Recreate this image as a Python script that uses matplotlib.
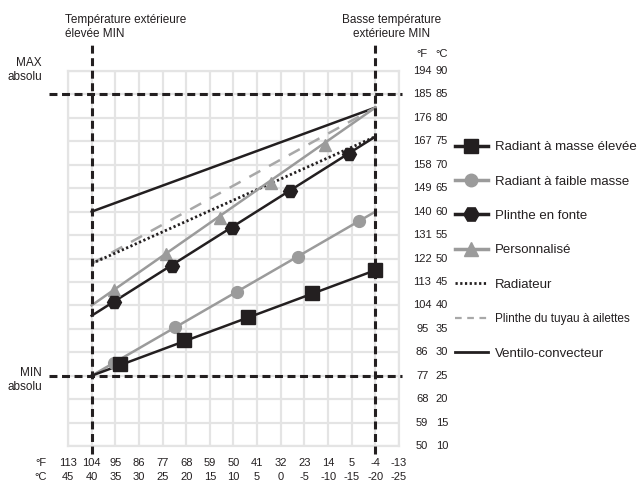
import numpy as np
import matplotlib
matplotlib.use("Agg")
import matplotlib.pyplot as plt
from matplotlib.lines import Line2D
import matplotlib.transforms as mtransforms

# temperatures in degC (outdoor on x, supply water on y)
c_ticks = [90, 85, 80, 75, 70, 65, 60, 55, 50, 45, 40, 35, 30, 25, 20, 15, 10]
x_ticks = [45, 40, 35, 30, 25, 20, 15, 10, 5, 0, -5, -10, -15, -20, -25]

T_HIGH = 40      # température extérieure élevée MIN
T_LOW = -20      # basse température extérieure MIN
MAX_ABS = 85
MIN_ABS = 25

# each curve: end points of the line + marker points
elevee_line_x = [40, -20]
elevee_line_y = [25, 47.5]
elevee_mk_x = [33.9, 20.4, 6.9, -6.6, -20]
elevee_mk_y = [27.6, 32.6, 37.6, 42.6, 47.5]

faible_line_x = [40, -20]
faible_line_y = [25, 60]
faible_mk_x = [35.3, 22.3, 9.3, -3.6, -16.6]
faible_mk_y = [27.8, 35.3, 42.9, 50.4, 58.0]

fonte_line_x = [40, -20]
fonte_line_y = [37.8, 76]
fonte_mk_x = [35.3, 23, 10.4, -1.9, -14.5]
fonte_mk_y = [40.8, 48.5, 56.5, 64.5, 72.4]

perso_line_x = [40, -20]
perso_line_y = [40, 82.2]
perso_mk_x = [35.3, 24.2, 12.8, 2, -9.3]
perso_mk_y = [43.3, 50.9, 58.6, 66.2, 74.3]

radiateur_x = [40, -20]
radiateur_y = [48.9, 76]

ailettes_x = [40, -20]
ailettes_y = [48.9, 82.2]

ventilo_x = [40, -20]
ventilo_y = [60, 82.2]

labels = ["Radiant à masse élevée", "Radiant à faible masse", "Plinthe en fonte",
          "Personnalisé", "Radiateur", "Plinthe du tuyau à ailettes",
          "Ventilo-convecteur"]

BLACK = "#231f20"
GRAY = "#9b9b9b"
GRID = "#e4e4e4"


def to_f(c):
    return int(round(c * 9 / 5 + 32))


plt.rcParams["font.family"] = ["Liberation Sans", "DejaVu Sans"]

fig = plt.figure(figsize=(6.41, 4.83), dpi=100)
W, H = 641, 483
ax = fig.add_axes([68 / W, (H - 446) / H, (399 - 68) / W, (446 - 71) / H])
ax.set_xlim(45, -25)
ax.set_ylim(10, 90)
ax.set_xticks(x_ticks)
ax.set_yticks(c_ticks)
ax.grid(True, color=GRID, lw=1.6, zorder=0)
ax.tick_params(length=0, labelbottom=False, labelleft=False)
for s in ax.spines.values():
    s.set_color(GRID)
    s.set_linewidth(1.6)

# reference dashed lines
xtr = mtransforms.blended_transform_factory(ax.transData, ax.transAxes)
ytr = mtransforms.blended_transform_factory(ax.transAxes, ax.transData)
dash = dict(color=BLACK, lw=2.2, dashes=(2.6, 1.5), clip_on=False, zorder=5)
for t in (T_HIGH, T_LOW):
    ax.plot([t, t], [-0.02, 1.07], transform=xtr, **dash)
for v in (MAX_ABS, MIN_ABS):
    ax.plot([-0.057, 1.009], [v, v], transform=ytr, **dash)

# curves
ax.plot(ventilo_x, ventilo_y, color=BLACK, lw=1.8, zorder=3)
ax.plot(ailettes_x, ailettes_y, color="#a8a8a8", lw=1.8, dashes=(5, 4), zorder=3)
ax.plot(radiateur_x, radiateur_y, color=BLACK, lw=2.0, dashes=(0.8, 0.9), zorder=3)
ax.plot(perso_line_x, perso_line_y, color=GRAY, lw=1.8, zorder=3)
ax.plot(perso_mk_x, perso_mk_y, ls="none", marker="^", ms=9, color=GRAY, zorder=4)
ax.plot(fonte_line_x, fonte_line_y, color=BLACK, lw=1.8, zorder=3)
ax.plot(fonte_mk_x, fonte_mk_y, ls="none", marker="H", ms=10, color=BLACK, zorder=4)
ax.plot(faible_line_x, faible_line_y, color=GRAY, lw=1.8, zorder=3)
ax.plot(faible_mk_x, faible_mk_y, ls="none", marker="o", ms=8.5, color=GRAY, zorder=4)
ax.plot(elevee_line_x, elevee_line_y, color=BLACK, lw=1.8, zorder=3)
ax.plot(elevee_mk_x, elevee_mk_y, ls="none", marker="s", ms=9.5, color=BLACK, zorder=4)

# tick labels: right side (°F / °C) and bottom (°F / °C)
tk = dict(fontsize=8, color=BLACK)
for c in c_ticks:
    ax.text(1.07, c, str(to_f(c)), transform=ytr, ha="center", va="center", **tk)
    ax.text(1.13, c, str(c), transform=ytr, ha="center", va="center", **tk)
ax.text(1.07, 1.045, "°F", transform=ax.transAxes, ha="center", va="center", **tk)
ax.text(1.13, 1.045, "°C", transform=ax.transAxes, ha="center", va="center", **tk)
for t in x_ticks:
    ax.text(t, -0.045, str(to_f(t)), transform=xtr, ha="center", va="center", **tk)
    ax.text(t, -0.084, str(t), transform=xtr, ha="center", va="center", **tk)
ax.text(-0.083, -0.045, "°F", transform=ax.transAxes, ha="center", va="center", **tk)
ax.text(-0.083, -0.084, "°C", transform=ax.transAxes, ha="center", va="center", **tk)

# annotations
an = dict(fontsize=8.5, color=BLACK, linespacing=1.15)
fig.text(65 / W, 1 - 27 / H, "Température extérieure\nélevée MIN", ha="left", va="center", **an)
fig.text(392 / W, 1 - 27 / H, "Basse température\nextérieure MIN", ha="center", va="center", **an)
fig.text(42 / W, 1 - 70 / H, "MAX\nabsolu", ha="right", va="center", **an)
fig.text(42 / W, 1 - 380 / H, "MIN\nabsolu", ha="right", va="center", **an)

# legend
handles = [
    Line2D([], [], color=BLACK, lw=2.5, marker="s", ms=10),
    Line2D([], [], color=GRAY, lw=2.5, marker="o", ms=9),
    Line2D([], [], color=BLACK, lw=2.5, marker="H", ms=11),
    Line2D([], [], color=GRAY, lw=2.5, marker="^", ms=10),
    Line2D([], [], color=BLACK, lw=2.0, dashes=(0.8, 0.9)),
    Line2D([], [], color="#a8a8a8", lw=1.6, dashes=(3, 2.5)),
    Line2D([], [], color=BLACK, lw=2.0),
]
leg = fig.legend(handles, labels, loc="upper left", bbox_to_anchor=(455 / W, 1 - 141 / H),
                 frameon=False, fontsize=9.5, handlelength=2.5, handletextpad=0.55,
                 labelspacing=1.68, borderpad=0, borderaxespad=0)
leg.get_texts()[5].set_fontsize(8.5)
for t in leg.get_texts():
    t.set_color(BLACK)

fig.savefig("out.png", dpi=100)
